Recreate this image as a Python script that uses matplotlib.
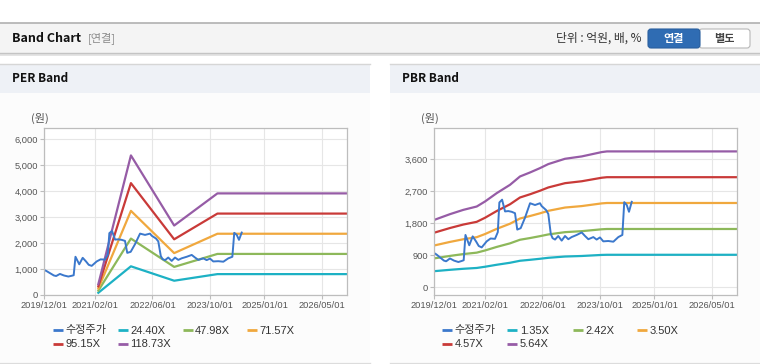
import matplotlib
matplotlib.use('Agg')
import matplotlib.pyplot as plt
import pandas as pd
from matplotlib.patches import Rectangle, FancyBboxPatch
from matplotlib.ticker import FuncFormatter

# ---------------- data ----------------
price_dates = ['2019-12-01', '2019-12-20', '2020-01-18', '2020-02-20', '2020-03-10', '2020-04-11',
               '2020-05-15', '2020-06-21', '2020-07-20', '2020-08-05', '2020-08-20', '2020-09-21',
               '2020-10-20', '2020-11-17', '2020-12-10', '2021-01-04', '2021-02-15', '2021-03-20',
               '2021-04-26', '2021-05-20', '2021-06-02', '2021-06-25', '2021-07-20', '2021-08-16',
               '2021-09-14', '2021-10-12', '2021-10-31', '2021-11-29', '2022-01-04', '2022-02-16',
               '2022-03-30', '2022-05-11', '2022-05-25', '2022-07-01', '2022-07-20', '2022-08-10',
               '2022-08-25', '2022-09-15', '2022-10-12', '2022-11-10', '2022-12-08', '2023-01-05',
               '2023-02-02', '2023-03-17', '2023-04-28', '2023-05-26', '2023-06-23', '2023-08-04',
               '2023-09-01', '2023-09-29', '2023-10-27', '2023-12-08', '2024-01-20', '2024-03-02',
               '2024-04-05', '2024-04-21', '2024-05-12', '2024-05-31', '2024-06-23']
price_vals = [960, 920, 840, 750, 730, 810,
              750, 710, 740, 760, 1470, 1180,
              1430, 1290, 1160, 1120, 1290, 1370,
              1360, 1550, 2380, 2460, 2130, 2140,
              2120, 2080, 1620, 1660, 1950, 2360,
              2310, 2360, 2280, 2170, 2060, 1500,
              1380, 1340, 1440, 1310, 1440, 1350,
              1410, 1470, 1540, 1440, 1350, 1410,
              1340, 1400, 1290, 1300, 1280, 1410,
              1470, 2390, 2310, 2120, 2400]

per_dates = ['2021-03-01', '2021-12-01', '2022-12-01', '2023-12-01', '2026-12-01']
per_24_40X = [85, 1103, 549, 803, 803]
per_47_98X = [168, 2169, 1080, 1579, 1579]
per_71_57X = [250, 3235, 1610, 2355, 2355]
per_95_15X = [333, 4301, 2141, 3130, 3130]
per_118_73X = [416, 5366, 2671, 3906, 3906]

pbr_dates = ['2019-12-01', '2020-04-11', '2020-08-02', '2020-11-23', '2021-02-01', '2021-05-11',
             '2021-08-31', '2021-11-23', '2022-02-16', '2022-05-11', '2022-07-20', '2022-12-08',
             '2023-04-28', '2023-10-14', '2023-11-27', '2026-12-01']
pbr_1_35X = [453, 491, 520, 543, 577, 633, 689, 745, 772, 801, 828, 864, 879, 909, 913, 913]
pbr_2_42X = [812, 881, 933, 973, 1034, 1134, 1234, 1335, 1383, 1436, 1484, 1548, 1576, 1629, 1637, 1637]
pbr_3_50X = [1175, 1274, 1349, 1407, 1495, 1641, 1785, 1931, 2001, 2077, 2147, 2239, 2280, 2356, 2367, 2367]
pbr_4_57X = [1534, 1664, 1762, 1838, 1952, 2142, 2331, 2521, 2612, 2711, 2803, 2923, 2977, 3076, 3091, 3091]
pbr_5_64X = [1893, 2053, 2174, 2268, 2409, 2644, 2877, 3111, 3224, 3346, 3459, 3608, 3674, 3796, 3815, 3815]

per_labels = ['수정주가', '24.40X', '47.98X', '71.57X', '95.15X', '118.73X']
pbr_labels = ['수정주가', '1.35X', '2.42X', '3.50X', '4.57X', '5.64X']

xtick_dates = ['2019-12-01', '2021-02-01', '2022-06-01', '2023-10-01', '2025-01-01', '2026-05-01']
xtick_labels = ['2019/12/01', '2021/02/01', '2022/06/01', '2023/10/01', '2025/01/01', '2026/05/01']
per_yticks = [0, 1000, 2000, 3000, 4000, 5000, 6000]
pbr_yticks = [0, 900, 1800, 2700, 3600]

colors = ['#3b78cc', '#1db1c4', '#8db85a', '#f0a83e', '#c93a38', '#965ca6']

# ---------------- figure ----------------
W, H = 760, 364
fig = plt.figure(figsize=(W / 100, H / 100), dpi=100)
fig.patch.set_facecolor('white')

bg = fig.add_axes([0, 0, 1, 1], zorder=0)
bg.set_xlim(0, W)
bg.set_ylim(H, 0)
bg.axis('off')

KR = ['Noto Sans CJK KR', 'DejaVu Sans']
LAT = ['Liberation Sans', 'Noto Sans CJK KR']

# top header bar
bg.add_patch(Rectangle((0, 53), W, 2.5, facecolor='#e4e4e4', edgecolor='none'))
bg.add_patch(Rectangle((0, 22.5), W, 30.5, facecolor='#f4f4f4', edgecolor='none'))
bg.plot([0, W], [22.5, 22.5], color='#b0b0b0', lw=1.2)
bg.plot([0, W], [53, 53], color='#c4c4c4', lw=1.0)
bg.text(12, 38, 'Band Chart', fontsize=9, fontweight='bold', family=KR, color='#111111',
        va='center', ha='left')
bg.text(88, 38.5, '[연결]', fontsize=8, family=KR, color='#8a8a8a', va='center', ha='left')
bg.text(642, 38.5, '단위 : 억원, 배, %', fontsize=8.5, family=KR, color='#333333',
        va='center', ha='right')
bg.add_patch(FancyBboxPatch((699, 29), 51, 19, boxstyle='round,pad=0,rounding_size=3',
                            facecolor='white', edgecolor='#b8b8b8', lw=0.8))
bg.add_patch(FancyBboxPatch((648, 29), 52, 19, boxstyle='round,pad=0,rounding_size=3',
                            facecolor='#2f6cb3', edgecolor='#2a5f9e', lw=0.8))
bg.text(674, 38.5, '연결', fontsize=8, fontweight='bold', family=KR, color='white',
        va='center', ha='center')
bg.text(724.5, 38.5, '별도', fontsize=8, fontweight='bold', family=KR, color='#444444',
        va='center', ha='center')

# panels
for (px0, px1, title) in [(0, 370, 'PER Band'), (390, 760, 'PBR Band')]:
    bg.add_patch(Rectangle((px0, 93), px1 - px0, 269, facecolor='#fcfcfc', edgecolor='none'))
    bg.add_patch(Rectangle((px0, 64), px1 - px0, 29, facecolor='#eef1f6', edgecolor='none'))
    bg.plot([px0, px1], [64, 64], color='#d6d6d6', lw=1.0)
    bg.plot([px0, px1], [362.5, 362.5], color='#dcdcdc', lw=1.0)
    bg.text(px0 + 12, 79, title, fontsize=8.5, fontweight='bold', family=KR, color='#111111',
            va='center', ha='left')

bg.text(39.5, 118, '(원)', fontsize=8, family=KR, color='#555555', va='center', ha='center')
bg.text(430, 118, '(원)', fontsize=8, family=KR, color='#555555', va='center', ha='center')

xlim = (pd.Timestamp('2019-12-01'), pd.Timestamp('2026-12-01'))
xt = pd.to_datetime(xtick_dates)


def setup(ax, ylim, yticks):
    ax.set_facecolor('white')
    ax.set_xlim(*xlim)
    ax.set_ylim(*ylim)
    ax.set_xticks(xt)
    ax.set_xticklabels(xtick_labels)
    ax.set_yticks(yticks)
    ax.yaxis.set_major_formatter(FuncFormatter(lambda v, p: f'{int(v):,}'))
    ax.grid(True, color='#e6e6e6', lw=0.8)
    ax.set_axisbelow(True)
    for s in ax.spines.values():
        s.set_color('#bdbdbd')
        s.set_linewidth(0.9)
    ax.tick_params(axis='both', length=3, width=0.8, color='#bdbdbd', labelcolor='#555555',
                   labelsize=6.7, pad=1.5)
    for lab in ax.get_xticklabels() + ax.get_yticklabels():
        lab.set_family(LAT)


axL = fig.add_axes([44.3 / W, (H - 295) / H, 303 / W, 167 / H], zorder=2)
setup(axL, (0, 6420), per_yticks)
pd_ = pd.to_datetime(per_dates)
for vals, c in zip([per_24_40X, per_47_98X, per_71_57X, per_95_15X, per_118_73X], colors[1:]):
    axL.plot(pd_, vals, color=c, lw=1.6, solid_joinstyle='round')
axL.plot(pd.to_datetime(price_dates), price_vals, color=colors[0], lw=1.4, solid_joinstyle='round')

axR = fig.add_axes([434.3 / W, (H - 295) / H, 303 / W, 167 / H], zorder=2)
setup(axR, (-216, 4472), pbr_yticks)
pb_ = pd.to_datetime(pbr_dates)
for vals, c in zip([pbr_1_35X, pbr_2_42X, pbr_3_50X, pbr_4_57X, pbr_5_64X], colors[1:]):
    axR.plot(pb_, vals, color=c, lw=1.6, solid_joinstyle='round')
axR.plot(pd.to_datetime(price_dates), price_vals, color=colors[0], lw=1.4, solid_joinstyle='round')


# legends
def legend(xs, labels):
    rows = [330, 343.5]
    for i, (lab, c) in enumerate(zip(labels, colors)):
        r = i // 4
        x = xs[i % 4]
        y = rows[r]
        bg.plot([x, x + 10], [y, y], color=c, lw=2.0, solid_capstyle='butt')
        bg.text(x + 12.5, y + 0.5, lab, fontsize=8, family=LAT, color='#333333',
                va='center', ha='left')


legend([52.7, 117.7, 182.7, 247.3], per_labels)
legend([442.3, 507.3, 572.7, 637.3], pbr_labels)

fig.savefig('out.png', dpi=100, facecolor='white')
